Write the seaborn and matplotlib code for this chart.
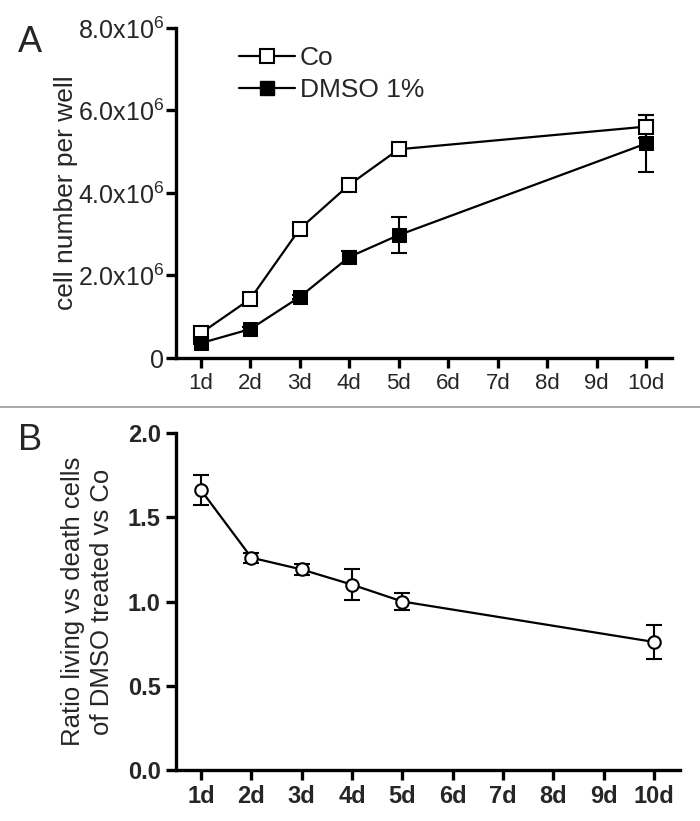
import seaborn as sns
import matplotlib.pyplot as plt
import pandas as pd
from matplotlib.lines import Line2D
from matplotlib.ticker import FuncFormatter


# ---------- DATA ---------- #

days = [1, 2, 3, 4, 5, 10]
day_ticks = [1, 2, 3, 4, 5, 6, 7, 8, 9, 10]
day_labels = ["1d", "2d", "3d", "4d", "5d", "6d", "7d", "8d", "9d", "10d"]

co_mean = [0.60e6, 1.43e6, 3.13e6, 4.20e6, 5.06e6, 5.61e6]
co_err = [0.04e6, 0.04e6, 0.04e6, 0.04e6, 0.04e6, 0.28e6]
dmso_mean = [0.36e6, 0.70e6, 1.48e6, 2.45e6, 2.98e6, 5.20e6]
dmso_err = [0.03e6, 0.04e6, 0.04e6, 0.15e6, 0.44e6, 0.68e6]

ratio_mean = [1.66, 1.26, 1.19, 1.10, 1.00, 0.76]
ratio_err = [0.09, 0.03, 0.03, 0.09, 0.05, 0.10]


sns.set_style("ticks")
plt.rcParams['font.family'] = ['Liberation Sans', 'DejaVu Sans']
plt.rcParams['mathtext.fontset'] = 'custom'
plt.rcParams['mathtext.rm'] = 'Liberation Sans'

fig = plt.figure(figsize=(7, 8.21), dpi=100)
W, H = 700, 821


def px_axes(left, top, right, bottom):
    return fig.add_axes([left / W, 1 - bottom / H, (right - left) / W, (bottom - top) / H])


def style_axis(ax):
    sns.despine(ax=ax)
    for s in ["left", "bottom"]:
        ax.spines[s].set_linewidth(2.4)
        ax.spines[s].set_color("black")
    ax.tick_params(width=2.4, length=7, color="black", direction="out", pad=4)


# ---------- PANEL A ---------- #

ax1 = px_axes(176, 28, 672, 358)
df_a = pd.DataFrame({
    "day": days * 2,
    "cells": co_mean + dmso_mean,
    "group": ["Co"] * len(days) + ["DMSO 1%"] * len(days),
})
ax1.errorbar(days, co_mean, yerr=co_err, fmt="none", ecolor="black", elinewidth=1.5, capsize=6, capthick=1.5, zorder=2)
ax1.errorbar(days, dmso_mean, yerr=dmso_err, fmt="none", ecolor="black", elinewidth=1.5, capsize=6, capthick=1.5, zorder=2)
sns.lineplot(data=df_a, x="day", y="cells", style="group", markers=["s", "s"], dashes=False,
             color="black", linewidth=1.6, markersize=10, ax=ax1, legend=False, zorder=3)
lines = ax1.get_lines()
lines[-2].set_markerfacecolor("white")
lines[-2].set_markeredgecolor("black")
lines[-2].set_markeredgewidth(1.5)
lines[-1].set_markerfacecolor("black")
lines[-1].set_markeredgecolor("black")

ax1.set_xlim(0.5, 10.52)
ax1.set_ylim(0, 8e6)
ax1.set_xticks(day_ticks)
ax1.set_xticklabels(day_labels, fontsize=16)
ax1.set_yticks([0, 2e6, 4e6, 6e6, 8e6])
ax1.yaxis.set_major_formatter(FuncFormatter(
    lambda v, p: "0" if v == 0 else r"$\mathregular{%.1fx10^{6}}$" % (v / 1e6)))
ax1.set_xlabel("")
ax1.set_ylabel("cell number per well", fontsize=19, labelpad=0)
style_axis(ax1)
ax1.tick_params(axis="y", labelsize=18, pad=1.5)

handles = [
    Line2D([], [], color="black", lw=1.6, marker="s", markersize=10, markerfacecolor="white", markeredgewidth=1.5),
    Line2D([], [], color="black", lw=1.6, marker="s", markersize=10, markerfacecolor="black"),
]
ax1.legend(handles, ["Co", "DMSO 1%"], loc="upper left", bbox_to_anchor=(0.09, 1.0), frameon=False,
           fontsize=19, handlelength=2.1, handletextpad=0.2, labelspacing=0.3, borderaxespad=0.3)

fig.text(18 / W, 1 - 42 / H, "A", fontsize=26, va="center", ha="left")


# ---------- PANEL B ---------- #

ax2 = px_axes(176, 433, 680, 770)
df_b = pd.DataFrame({"day": days, "ratio": ratio_mean})
ax2.errorbar(days, ratio_mean, yerr=ratio_err, fmt="none", ecolor="black", elinewidth=1.5, capsize=6, capthick=1.5, zorder=2)
sns.lineplot(data=df_b, x="day", y="ratio", marker="o", color="black", linewidth=1.6,
             markersize=9, markerfacecolor="white", markeredgecolor="black", markeredgewidth=1.5,
             ax=ax2, zorder=3)
ax2.set_xlim(0.5, 10.52)
ax2.set_ylim(0, 2.0)
ax2.set_xticks(day_ticks)
ax2.set_xticklabels(day_labels, fontsize=17, fontweight="bold")
ax2.set_yticks([0, 0.5, 1.0, 1.5, 2.0])
ax2.set_yticklabels(["0.0", "0.5", "1.0", "1.5", "2.0"], fontsize=17, fontweight="bold")
ax2.set_xlabel("")
ax2.set_ylabel("Ratio living vs death cells\nof DMSO treated vs Co", fontsize=18.5, labelpad=10, linespacing=1.25)
style_axis(ax2)

fig.text(18 / W, 1 - 440 / H, "B", fontsize=26, va="center", ha="left")

# separator line between panels
fig.add_artist(Line2D([0, 1], [1 - 407 / H, 1 - 407 / H], color="#999999", lw=1.2))

fig.savefig("out.png", dpi=100)
